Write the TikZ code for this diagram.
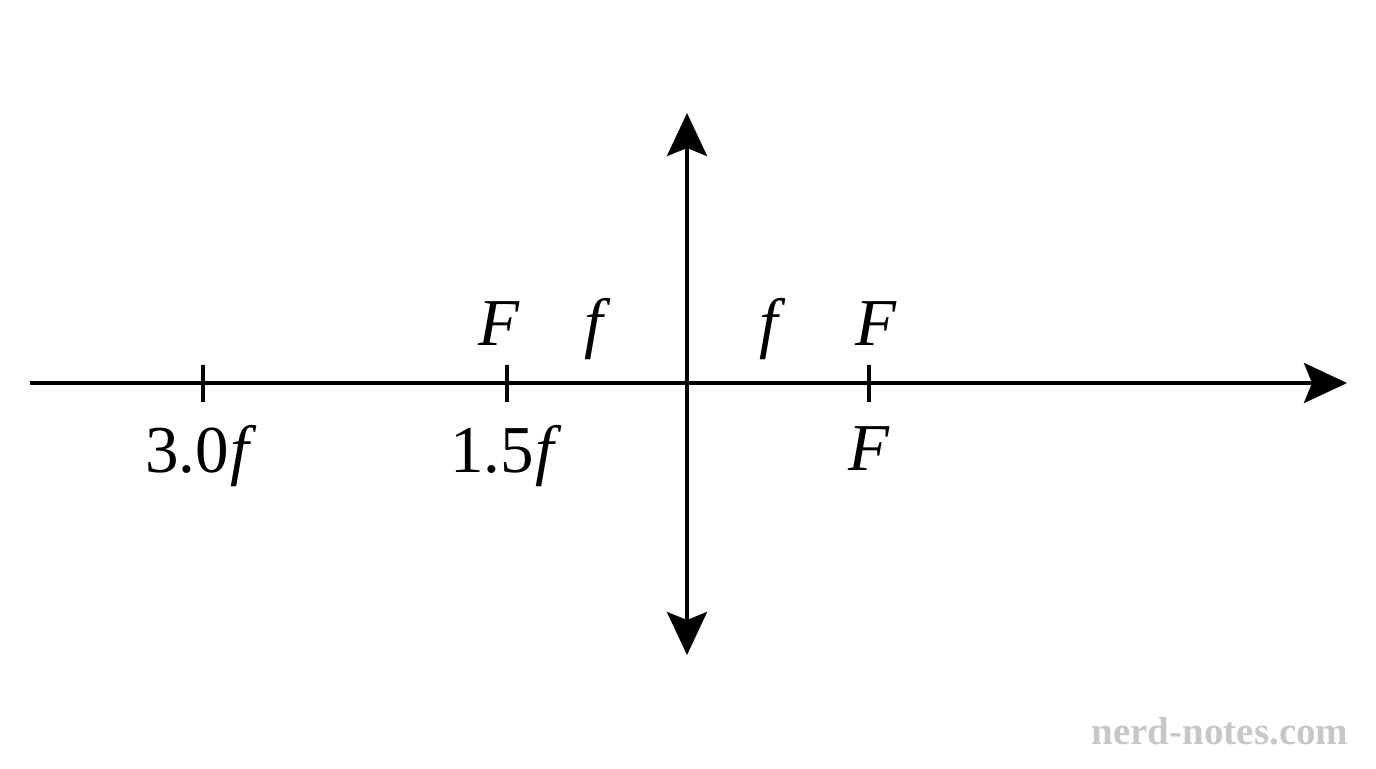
\documentclass[tikz,border=0pt]{standalone}
\usepackage{fontspec}
\setmainfont{Liberation Serif}
\usetikzlibrary{arrows.meta, positioning}
\tikzset{
	axisline/.style={line width=2pt, -{Stealth[length=21.5pt, width=20pt, inset=4pt]}},
	lensline/.style={line width=2pt, {Stealth[length=21.5pt, width=20pt, inset=4pt]}-{Stealth[length=21.5pt, width=20pt, inset=4pt]}},
	tickmark/.style={line width=2pt}
}
\newcommand{\fl}{\kern0.5pt\textit{f}\kern1pt}

\begin{document}
\begin{tikzpicture}[
	x=0.5pt, y=-0.5pt,
	lbl/.style={font=\fontsize{33.5}{38}\selectfont, anchor=base, inner sep=0pt},
	wmark/.style={font=\bfseries\fontsize{19.5}{22}\selectfont, text=black!22, inner sep=0pt}]
	\useasboundingbox (0,0) rectangle (1376,768);
	% optical axis and lens
	\coordinate (axL) at (30,383);
	\coordinate (axR) at (1347,383);
	\coordinate (lensT) at (687,113);
	\coordinate (lensB) at (687,655);
	\draw[axisline] (axL) -- (axR);
	\draw[lensline] (lensB) -- (lensT);
	% ticks
	\foreach \name/\x in {t30/203, t15/507, tF/869}{
		\coordinate (\name) at (\x,383);
		\draw[tickmark] ([yshift=9.25pt]\name) -- ([yshift=-9.25pt]\name);
	}
	% labels
	\node[lbl] (l30) at (202,472) {3.0\fl};
	\node[lbl] (l15) at (507,472) {1.5\fl};
	\node[lbl] (lFb) at (869,470) {\textit{F}};
	\node[lbl] (lFl) at (499,345) {\textit{F}};
	\node[lbl] (lFr) at (876,345) {\textit{F}};
	\node[lbl] (lfl) at (598,345) {\fl};
	\node[lbl] (lfr) at (773,345) {\fl};
	\node[wmark] (wm) at (1220,731) {nerd-notes.com};
\end{tikzpicture}
\end{document}
